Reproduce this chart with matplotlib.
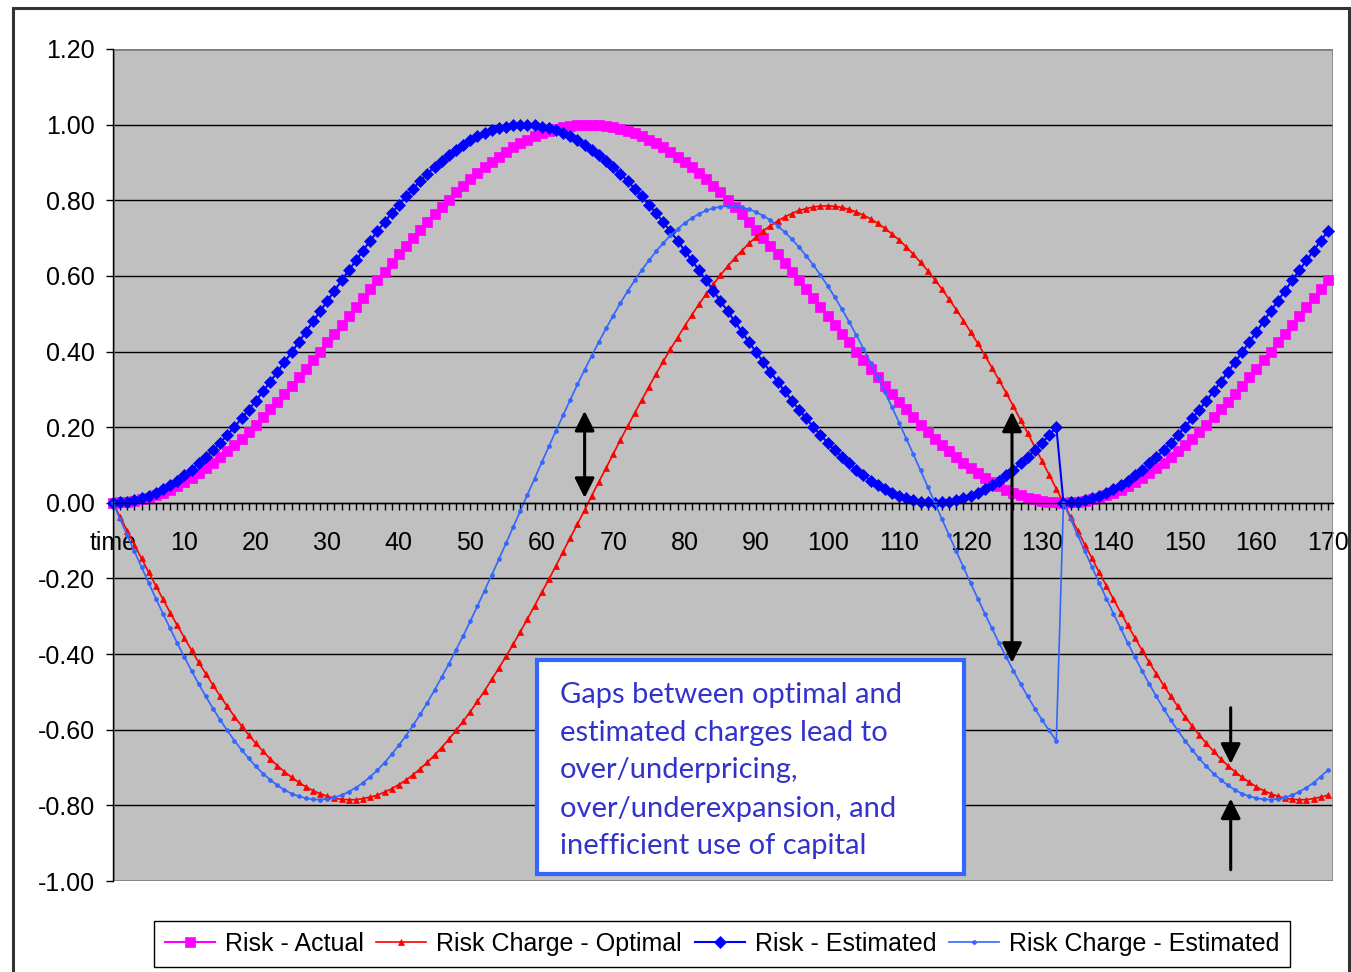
import matplotlib
matplotlib.use('Agg')
import matplotlib.pyplot as plt
from matplotlib.patches import Rectangle
from matplotlib.ticker import FixedLocator, MultipleLocator

plt.rcParams['font.family'] = ['Liberation Sans', 'DejaVu Sans']
plt.rcParams['axes.unicode_minus'] = False

# values, one per time step (0..170)
risk_actual = [
    0.000, 0.001, 0.002, 0.005, 0.009, 0.014, 0.020, 0.027, 0.035, 0.045,
    0.055, 0.066, 0.078, 0.091, 0.105, 0.120, 0.136, 0.153, 0.170, 0.188,
    0.207, 0.227, 0.247, 0.267, 0.288, 0.310, 0.332, 0.355, 0.377, 0.400,
    0.424, 0.447, 0.471, 0.494, 0.518, 0.541, 0.565, 0.588, 0.611, 0.634,
    0.657, 0.679, 0.701, 0.722, 0.743, 0.764, 0.783, 0.802, 0.821, 0.839,
    0.856, 0.872, 0.887, 0.902, 0.915, 0.928, 0.940, 0.951, 0.960, 0.969,
    0.977, 0.983, 0.989, 0.993, 0.997, 0.999, 1.000, 1.000, 0.999, 0.997,
    0.993, 0.989, 0.983, 0.977, 0.969, 0.960, 0.951, 0.940, 0.928, 0.915,
    0.902, 0.887, 0.872, 0.856, 0.839, 0.821, 0.802, 0.783, 0.764, 0.743,
    0.722, 0.701, 0.679, 0.657, 0.634, 0.611, 0.588, 0.565, 0.541, 0.518,
    0.494, 0.471, 0.447, 0.424, 0.400, 0.377, 0.355, 0.332, 0.310, 0.288,
    0.267, 0.247, 0.227, 0.207, 0.188, 0.170, 0.153, 0.136, 0.120, 0.105,
    0.091, 0.078, 0.066, 0.055, 0.045, 0.035, 0.027, 0.020, 0.014, 0.009,
    0.005, 0.002, 0.001, 0.000, 0.001, 0.002, 0.005, 0.009, 0.014, 0.020,
    0.027, 0.035, 0.045, 0.055, 0.066, 0.078, 0.091, 0.105, 0.120, 0.136,
    0.153, 0.170, 0.188, 0.207, 0.227, 0.247, 0.267, 0.288, 0.310, 0.332,
    0.355, 0.377, 0.400, 0.424, 0.447, 0.471, 0.494, 0.518, 0.541, 0.565,
    0.588]

charge_optimal = [
    0.000, -0.037, -0.074, -0.111, -0.147, -0.184, -0.219, -0.255, -0.290, -0.324,
    -0.357, -0.390, -0.422, -0.452, -0.482, -0.511, -0.538, -0.565, -0.590, -0.614,
    -0.636, -0.657, -0.677, -0.695, -0.711, -0.726, -0.739, -0.751, -0.761, -0.769,
    -0.776, -0.781, -0.784, -0.785, -0.785, -0.782, -0.778, -0.773, -0.765, -0.756,
    -0.745, -0.733, -0.719, -0.703, -0.686, -0.667, -0.647, -0.625, -0.602, -0.578,
    -0.552, -0.525, -0.497, -0.467, -0.437, -0.406, -0.374, -0.341, -0.307, -0.272,
    -0.237, -0.202, -0.166, -0.129, -0.092, -0.056, -0.019, 0.019, 0.056, 0.092,
    0.129, 0.166, 0.202, 0.237, 0.272, 0.307, 0.341, 0.374, 0.406, 0.437,
    0.467, 0.497, 0.525, 0.552, 0.578, 0.602, 0.625, 0.647, 0.667, 0.686,
    0.703, 0.719, 0.733, 0.745, 0.756, 0.765, 0.773, 0.778, 0.782, 0.785,
    0.785, 0.784, 0.781, 0.776, 0.769, 0.761, 0.751, 0.739, 0.726, 0.711,
    0.695, 0.677, 0.657, 0.636, 0.614, 0.590, 0.565, 0.538, 0.511, 0.482,
    0.452, 0.422, 0.390, 0.357, 0.324, 0.290, 0.255, 0.219, 0.184, 0.147,
    0.111, 0.074, 0.037, 0.000, -0.037, -0.074, -0.111, -0.147, -0.184, -0.219,
    -0.255, -0.290, -0.324, -0.357, -0.390, -0.422, -0.452, -0.482, -0.511, -0.538,
    -0.565, -0.590, -0.614, -0.636, -0.657, -0.677, -0.695, -0.711, -0.726, -0.739,
    -0.751, -0.761, -0.769, -0.776, -0.781, -0.784, -0.785, -0.785, -0.782, -0.778,
    -0.773]

risk_estimated = [
    0.000, 0.001, 0.003, 0.007, 0.012, 0.019, 0.027, 0.036, 0.047, 0.059,
    0.073, 0.088, 0.104, 0.121, 0.139, 0.159, 0.179, 0.201, 0.223, 0.246,
    0.270, 0.295, 0.320, 0.346, 0.372, 0.398, 0.425, 0.452, 0.480, 0.507,
    0.534, 0.561, 0.588, 0.615, 0.641, 0.667, 0.693, 0.718, 0.742, 0.766,
    0.788, 0.810, 0.831, 0.851, 0.870, 0.888, 0.905, 0.920, 0.934, 0.947,
    0.959, 0.969, 0.978, 0.985, 0.991, 0.995, 0.998, 1.000, 1.000, 0.998,
    0.995, 0.991, 0.985, 0.978, 0.969, 0.959, 0.947, 0.934, 0.920, 0.905,
    0.888, 0.870, 0.851, 0.831, 0.810, 0.788, 0.766, 0.742, 0.718, 0.693,
    0.667, 0.641, 0.615, 0.588, 0.561, 0.534, 0.507, 0.480, 0.452, 0.425,
    0.398, 0.372, 0.346, 0.320, 0.295, 0.270, 0.246, 0.223, 0.201, 0.179,
    0.159, 0.139, 0.121, 0.104, 0.088, 0.073, 0.059, 0.047, 0.036, 0.027,
    0.019, 0.012, 0.007, 0.003, 0.001, 0.000, 0.001, 0.003, 0.007, 0.012,
    0.019, 0.027, 0.036, 0.047, 0.059, 0.073, 0.088, 0.104, 0.121, 0.139,
    0.159, 0.179, 0.201, 0.000, 0.001, 0.003, 0.007, 0.012, 0.019, 0.027,
    0.036, 0.047, 0.059, 0.073, 0.088, 0.104, 0.121, 0.139, 0.159, 0.179,
    0.201, 0.223, 0.246, 0.270, 0.295, 0.320, 0.346, 0.372, 0.398, 0.425,
    0.452, 0.480, 0.507, 0.534, 0.561, 0.588, 0.615, 0.641, 0.667, 0.693,
    0.718]

charge_estimated = [
    0.000, -0.043, -0.086, -0.128, -0.170, -0.212, -0.253, -0.293, -0.332, -0.371,
    -0.408, -0.444, -0.479, -0.512, -0.544, -0.574, -0.602, -0.629, -0.653, -0.676,
    -0.697, -0.716, -0.732, -0.747, -0.759, -0.769, -0.776, -0.781, -0.784, -0.785,
    -0.783, -0.779, -0.773, -0.764, -0.753, -0.740, -0.724, -0.707, -0.687, -0.665,
    -0.641, -0.616, -0.588, -0.559, -0.528, -0.495, -0.461, -0.426, -0.389, -0.352,
    -0.313, -0.273, -0.232, -0.191, -0.149, -0.107, -0.064, -0.022, 0.022, 0.064,
    0.107, 0.149, 0.191, 0.232, 0.273, 0.313, 0.352, 0.389, 0.426, 0.461,
    0.495, 0.528, 0.559, 0.588, 0.616, 0.641, 0.665, 0.687, 0.707, 0.724,
    0.740, 0.753, 0.764, 0.773, 0.779, 0.783, 0.785, 0.784, 0.781, 0.776,
    0.769, 0.759, 0.747, 0.732, 0.716, 0.697, 0.676, 0.653, 0.629, 0.602,
    0.574, 0.544, 0.512, 0.479, 0.444, 0.408, 0.371, 0.332, 0.293, 0.253,
    0.212, 0.170, 0.128, 0.086, 0.043, 0.000, -0.043, -0.086, -0.128, -0.170,
    -0.212, -0.253, -0.293, -0.332, -0.371, -0.408, -0.444, -0.479, -0.512, -0.544,
    -0.574, -0.602, -0.629, 0.000, -0.043, -0.086, -0.128, -0.170, -0.212, -0.253,
    -0.293, -0.332, -0.371, -0.408, -0.444, -0.479, -0.512, -0.544, -0.574, -0.602,
    -0.629, -0.653, -0.676, -0.697, -0.716, -0.732, -0.747, -0.759, -0.769, -0.776,
    -0.781, -0.784, -0.785, -0.783, -0.779, -0.773, -0.764, -0.753, -0.740, -0.724,
    -0.707]

series_names = ['Risk - Actual', 'Risk Charge - Optimal', 'Risk - Estimated', 'Risk Charge - Estimated']

x_tick_pos = [0, 10, 20, 30, 40, 50, 60, 70, 80, 90, 100, 110, 120, 130, 140, 150, 160, 170]
x_tick_labels = ['time', '10', '20', '30', '40', '50', '60', '70', '80', '90',
                 '100', '110', '120', '130', '140', '150', '160', '170']
y_tick_pos = [-1.0, -0.8, -0.6, -0.4, -0.2, 0.0, 0.2, 0.4, 0.6, 0.8, 1.0, 1.2]
y_tick_labels = ['-1.00', '-0.80', '-0.60', '-0.40', '-0.20', '0.00',
                 '0.20', '0.40', '0.60', '0.80', '1.00', '1.20']

note_lines = ['Gaps between optimal and', 'estimated charges lead to',
              'over/underpricing,', 'over/underexpansion, and',
              'inefficient use of capital']

t = list(range(len(risk_actual)))

fig = plt.figure(figsize=(13.51, 9.72), dpi=100)
ax = fig.add_axes([0.0836, 0.0936, 0.9030, 0.8560])
ax.set_facecolor('#C0C0C0')

ax.plot(t, risk_actual, color='#FF00FF', lw=1.5, marker='s', ms=7.3,
        mec='#FF00FF', mew=0.5, label=series_names[0], clip_on=False)
ax.plot(t, charge_optimal, color='#FF0000', lw=1.2, marker='^', ms=4,
        mec='#FF0000', mew=0.5, label=series_names[1], clip_on=False)
ax.plot(t, risk_estimated, color='#0000FF', lw=1.5, marker='D', ms=6.0,
        mec='#0000FF', mew=0.5, label=series_names[2], clip_on=False)
ax.plot(t, charge_estimated, color='#3366FF', lw=1.2, marker='o', ms=2.8,
        mec='#3366FF', mew=0.5, label=series_names[3], clip_on=False)

ax.set_xlim(0, 170.7)
ax.set_ylim(-1.0, 1.2)

# axes: y axis at left, category axis crossing at 0
ax.spines['top'].set_visible(False)
ax.spines['right'].set_visible(False)
ax.spines['bottom'].set_position(('data', 0))
ax.spines['bottom'].set_linewidth(1)
ax.spines['left'].set_linewidth(1)

ax.xaxis.set_major_locator(FixedLocator(x_tick_pos))
ax.set_xticklabels(x_tick_labels)
ax.xaxis.set_minor_locator(MultipleLocator(1))
ax.tick_params(axis='x', which='both', direction='out', length=5, width=1)
ax.tick_params(axis='x', which='major', labelsize=18, pad=15)
for lbl in ax.get_xticklabels():
    lbl.set_x(lbl.get_position()[0])

ax.set_yticks(y_tick_pos)
ax.set_yticklabels(y_tick_labels)
ax.tick_params(axis='y', direction='out', length=5, width=1, labelsize=18, pad=8)

ax.set_axisbelow(True)
ax.yaxis.grid(True, color='black', lw=1)
ax.add_patch(Rectangle((0, 0), 1, 1, transform=ax.transAxes, fill=False,
                       edgecolor='#808080', lw=1.8, zorder=1))

# callout box
ax.add_patch(Rectangle((59.33, -0.981), 59.74, 0.566, facecolor='white',
                       edgecolor='#3366FF', lw=3, zorder=5))
note_y = [-0.529, -0.629, -0.727, -0.830, -0.928]
for line, yy in zip(note_lines, note_y):
    ax.text(62.5, yy, line, color='#3333CC', fontsize=21, va='baseline',
            ha='left', family=['Lato', 'DejaVu Sans'], zorder=6)

# arrows
arrow_style = '<|-|>,head_length=0.8,head_width=0.4'
single_style = '-|>,head_length=0.8,head_width=0.4'
for xx, y0, y1, st in [(66.0, 0.013, 0.243, arrow_style),
                       (125.8, -0.423, 0.241, arrow_style),
                       (156.4, -0.542, -0.690, single_style),
                       (156.4, -0.970, -0.782, single_style)]:
    ax.annotate('', xy=(xx, y1), xytext=(xx, y0), zorder=7,
                arrowprops=dict(arrowstyle=st, color='black', lw=2.2,
                                mutation_scale=15, shrinkA=0, shrinkB=0))

leg = ax.legend(loc='center', bbox_to_anchor=(0.5344, 0.0288),
                bbox_transform=fig.transFigure, ncol=4, fontsize=18,
                frameon=True, fancybox=False, framealpha=1, edgecolor='black',
                borderpad=0.45, handlelength=2.0, handletextpad=0.4,
                columnspacing=0.5, borderaxespad=0)
leg.get_frame().set_linewidth(1)

# outer chart border
fig.add_artist(Rectangle((0.0096, -0.1), 0.9889, 1.0913, transform=fig.transFigure,
                         fill=False, edgecolor='#333333', lw=2.2, clip_on=False))

fig.savefig('out.png', dpi=100)
